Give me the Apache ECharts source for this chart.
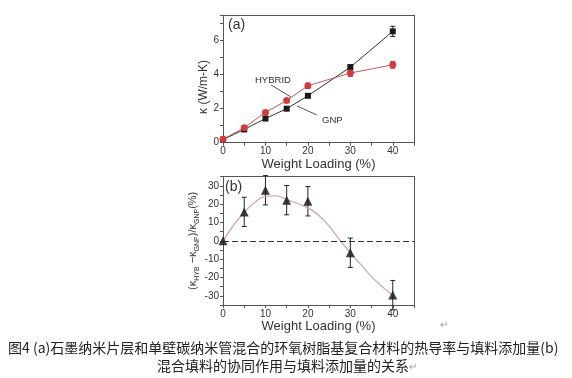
<!DOCTYPE html>
<html><head><meta charset="utf-8">
<script src="https://cdn.jsdelivr.net/npm/echarts@6/dist/echarts.min.js"></script>
<style>html,body{margin:0;padding:0;background:#fff}#c{width:572px;height:378px}</style>
</head><body><div id="c"></div>
<script>
// ---- data ----
const loading = [0, 5, 10, 15, 20, 30, 40];
const gnpK = [0.18, 0.78, 1.42, 2.0, 2.76, 4.44, 6.55];
const gnpErr = [0.05, 0.08, 0.08, 0.08, 0.1, 0.15, 0.3];
const hybK = [0.2, 0.88, 1.78, 2.48, 3.35, 4.1, 4.58];
const hybErr = [0.05, 0.08, 0.1, 0.1, 0.15, 0.2, 0.2];
const synergy = [0, 15.8, 27.6, 22.2, 21.6, -6.5, -29.6];
const synErr = [0, 8, 8, 8, 8, 8, 8];
const curveX = [0, 2.5, 5, 7.5, 10, 12.5, 15, 17.5, 20, 22.5, 25, 27.5, 30, 32.5, 35, 37.5, 40];
const curveY = [0, 8.5, 15.5, 21, 24.3, 24.6, 22.6, 20.5, 18, 14, 8, 0.5, -6.5, -13, -19.5, -25, -30];
const xTicks = [0, 10, 20, 30, 40];
const yTicksA = [0, 2, 4, 6];
const yTicksB = [-30, -20, -10, 0, 10, 20, 30];

const pair = (xs, ys) => xs.map((x, i) => [x, ys[i]]);
const trip = (xs, ys, es) => xs.map((x, i) => [x, ys[i], es[i]]);

const F = '"Liberation Sans", Arial, sans-serif';
const axisCol = '#555';
const lblStyle = {fontFamily: F, fontSize: 10, color: '#333'};

function errBar(data, color, xi, yi) {
  return {
    type: 'custom', xAxisIndex: xi, yAxisIndex: yi, z: 1,
    data: data,
    encode: {x: 0, y: 1},
    renderItem: function (params, api) {
      const x = api.value(0), y = api.value(1), e = api.value(2);
      if (!e) return null;
      const top = api.coord([x, y + e]);
      const bot = api.coord([x, y - e]);
      const w = 2.5;
      const st = {stroke: color, lineWidth: 1};
      return {type: 'group', children: [
        {type: 'line', shape: {x1: top[0], y1: top[1], x2: bot[0], y2: bot[1]}, style: st},
        {type: 'line', shape: {x1: top[0] - w, y1: top[1], x2: top[0] + w, y2: top[1]}, style: st},
        {type: 'line', shape: {x1: bot[0] - w, y1: bot[1], x2: bot[0] + w, y2: bot[1]}, style: st}
      ]};
    }
  };
}

function xAx(gi, gap) {
  return {
    gridIndex: gi, type: 'value', min: 0, max: 45, interval: 5, position: 'bottom',
    name: 'Weight Loading (%)', nameLocation: 'middle', nameGap: gap,
    nameTextStyle: {fontFamily: F, fontSize: 13, color: '#333'},
    axisLine: {show: true, onZero: false, lineStyle: {color: axisCol}},
    axisTick: {show: true, inside: false, length: 3, lineStyle: {color: axisCol}},
    axisLabel: Object.assign({margin: 4, formatter: v => xTicks.includes(v) ? String(v) : ''}, lblStyle),
    splitLine: {show: false}
  };
}
function xTop(gi) {
  return {gridIndex: gi, type: 'value', min: 0, max: 45, position: 'top',
    axisLine: {show: true, onZero: false, lineStyle: {color: axisCol}},
    axisTick: {show: false}, axisLabel: {show: false}, splitLine: {show: false}};
}
function yRight(gi, mn, mx) {
  return {gridIndex: gi, type: 'value', min: mn, max: mx, position: 'right',
    axisLine: {show: true, onZero: false, lineStyle: {color: axisCol}},
    axisTick: {show: false}, axisLabel: {show: false}, splitLine: {show: false}};
}

const chart = echarts.init(document.getElementById('c'), null, {renderer: 'canvas'});
chart.setOption({
  animation: false,
  grid: [
    {left: 223, top: 15.2, width: 191, height: 127.5},
    {left: 223, top: 176.7, width: 191, height: 128.3}
  ],
  xAxis: [xAx(0, 12), xAx(1, 13), xTop(0), xTop(1)],
  yAxis: [
    {
      gridIndex: 0, type: 'value', min: 0, max: 7.5, interval: 1,
      name: 'κ (W/m-K)', nameLocation: 'middle', nameGap: 12,
      nameTextStyle: {fontFamily: F, fontSize: 12, color: '#333', padding: [0, 16, 0, 0]},
      axisLine: {show: true, onZero: false, lineStyle: {color: axisCol}},
      axisTick: {show: true, length: 3, lineStyle: {color: axisCol}},
      axisLabel: Object.assign({margin: 4, formatter: v => yTicksA.includes(v) ? String(v) : ''}, lblStyle),
      splitLine: {show: false}
    },
    {
      gridIndex: 1, type: 'value', min: -35, max: 35, interval: 5,
      name: '{a|(κ}{s|HYB}{a| −κ}{s|GNP}{a|)/κ}{s|GNP}{a|(%)}', nameLocation: 'middle', nameGap: 20,
      nameTextStyle: {
        fontFamily: F, fontSize: 11, color: '#333',
        rich: {
          a: {fontFamily: F, fontSize: 11, color: '#333', verticalAlign: 'bottom', lineHeight: 14},
          s: {fontFamily: F, fontSize: 7, color: '#333', verticalAlign: 'bottom', lineHeight: 10, padding: [0, 0, -2, 0]}
        }
      },
      axisLine: {show: true, onZero: false, lineStyle: {color: axisCol}},
      axisTick: {show: true, length: 3, lineStyle: {color: axisCol}},
      axisLabel: Object.assign({margin: 4, formatter: v => yTicksB.includes(v) ? String(v) : ''}, lblStyle),
      splitLine: {show: false}
    },
    yRight(0, 0, 7.5),
    yRight(1, -35, 35)
  ],
  series: [
    errBar(trip(loading, gnpK, gnpErr), '#222', 0, 0),
    {
      name: 'GNP', type: 'line', xAxisIndex: 0, yAxisIndex: 0, z: 3,
      data: pair(loading, gnpK), symbol: 'rect', symbolSize: 6,
      itemStyle: {color: '#1a1a1a'}, lineStyle: {color: '#333', width: 1}
    },
    errBar(trip(loading, hybK, hybErr), '#c03030', 0, 0),
    {
      name: 'HYBRID', type: 'line', xAxisIndex: 0, yAxisIndex: 0, z: 3,
      data: pair(loading, hybK), symbol: 'circle', symbolSize: 7,
      itemStyle: {color: '#d23c3c'}, lineStyle: {color: '#b85a5a', width: 1}
    },
    {
      name: 'fit', type: 'line', xAxisIndex: 1, yAxisIndex: 1, smooth: true, showSymbol: false,
      data: pair(curveX, curveY), lineStyle: {color: '#c8a4a4', width: 1.2},
      markLine: {
        silent: true, symbol: 'none', label: {show: false},
        lineStyle: {color: '#333', type: [6, 3], width: 1},
        data: [{yAxis: 0}]
      }
    },
    errBar(trip(loading, synergy, synErr), '#222', 1, 1),
    {
      name: 'synergy', type: 'scatter', xAxisIndex: 1, yAxisIndex: 1, z: 3,
      data: pair(loading, synergy), symbol: 'triangle', symbolSize: 9,
      itemStyle: {color: '#111'}
    }
  ],
  graphic: [
    {type: 'text', left: 228, top: 18, style: {text: '(a)', font: '14px ' + F, fill: '#333'}},
    {type: 'text', left: 225, top: 180, style: {text: '(b)', font: '14px ' + F, fill: '#333'}},
    {type: 'text', left: 255, top: 75, style: {text: 'HYBRID', font: '9.5px ' + F, fill: '#333'}},
    {type: 'line', shape: {x1: 271, y1: 85, x2: 291, y2: 97}, style: {stroke: '#555', lineWidth: 1}},
    {type: 'text', left: 322, top: 115, style: {text: 'GNP', font: '9.5px ' + F, fill: '#333'}},
    {type: 'line', shape: {x1: 297, y1: 106, x2: 317, y2: 115}, style: {stroke: '#555', lineWidth: 1}},
    {type: 'text', left: 440, top: 320, style: {text: '↵', font: '10px ' + F, fill: '#999'}},
    {type: 'text', left: 8, top: 341, style: {text: '图4 (a)石墨纳米片层和单壁碳纳米管混合的环氧树脂基复合材料的热导率与填料添加量(b)', font: '14px "Noto Sans CJK SC"', fill: '#222'}},
    {type: 'text', left: 157, top: 359, style: {text: '混合填料的协同作用与填料添加量的关系', font: '14px "Noto Sans CJK SC"', fill: '#222'}},
    {type: 'text', left: 409, top: 362, style: {text: '↵', font: '10px ' + F, fill: '#999'}}
  ]
});
</script></body></html>
